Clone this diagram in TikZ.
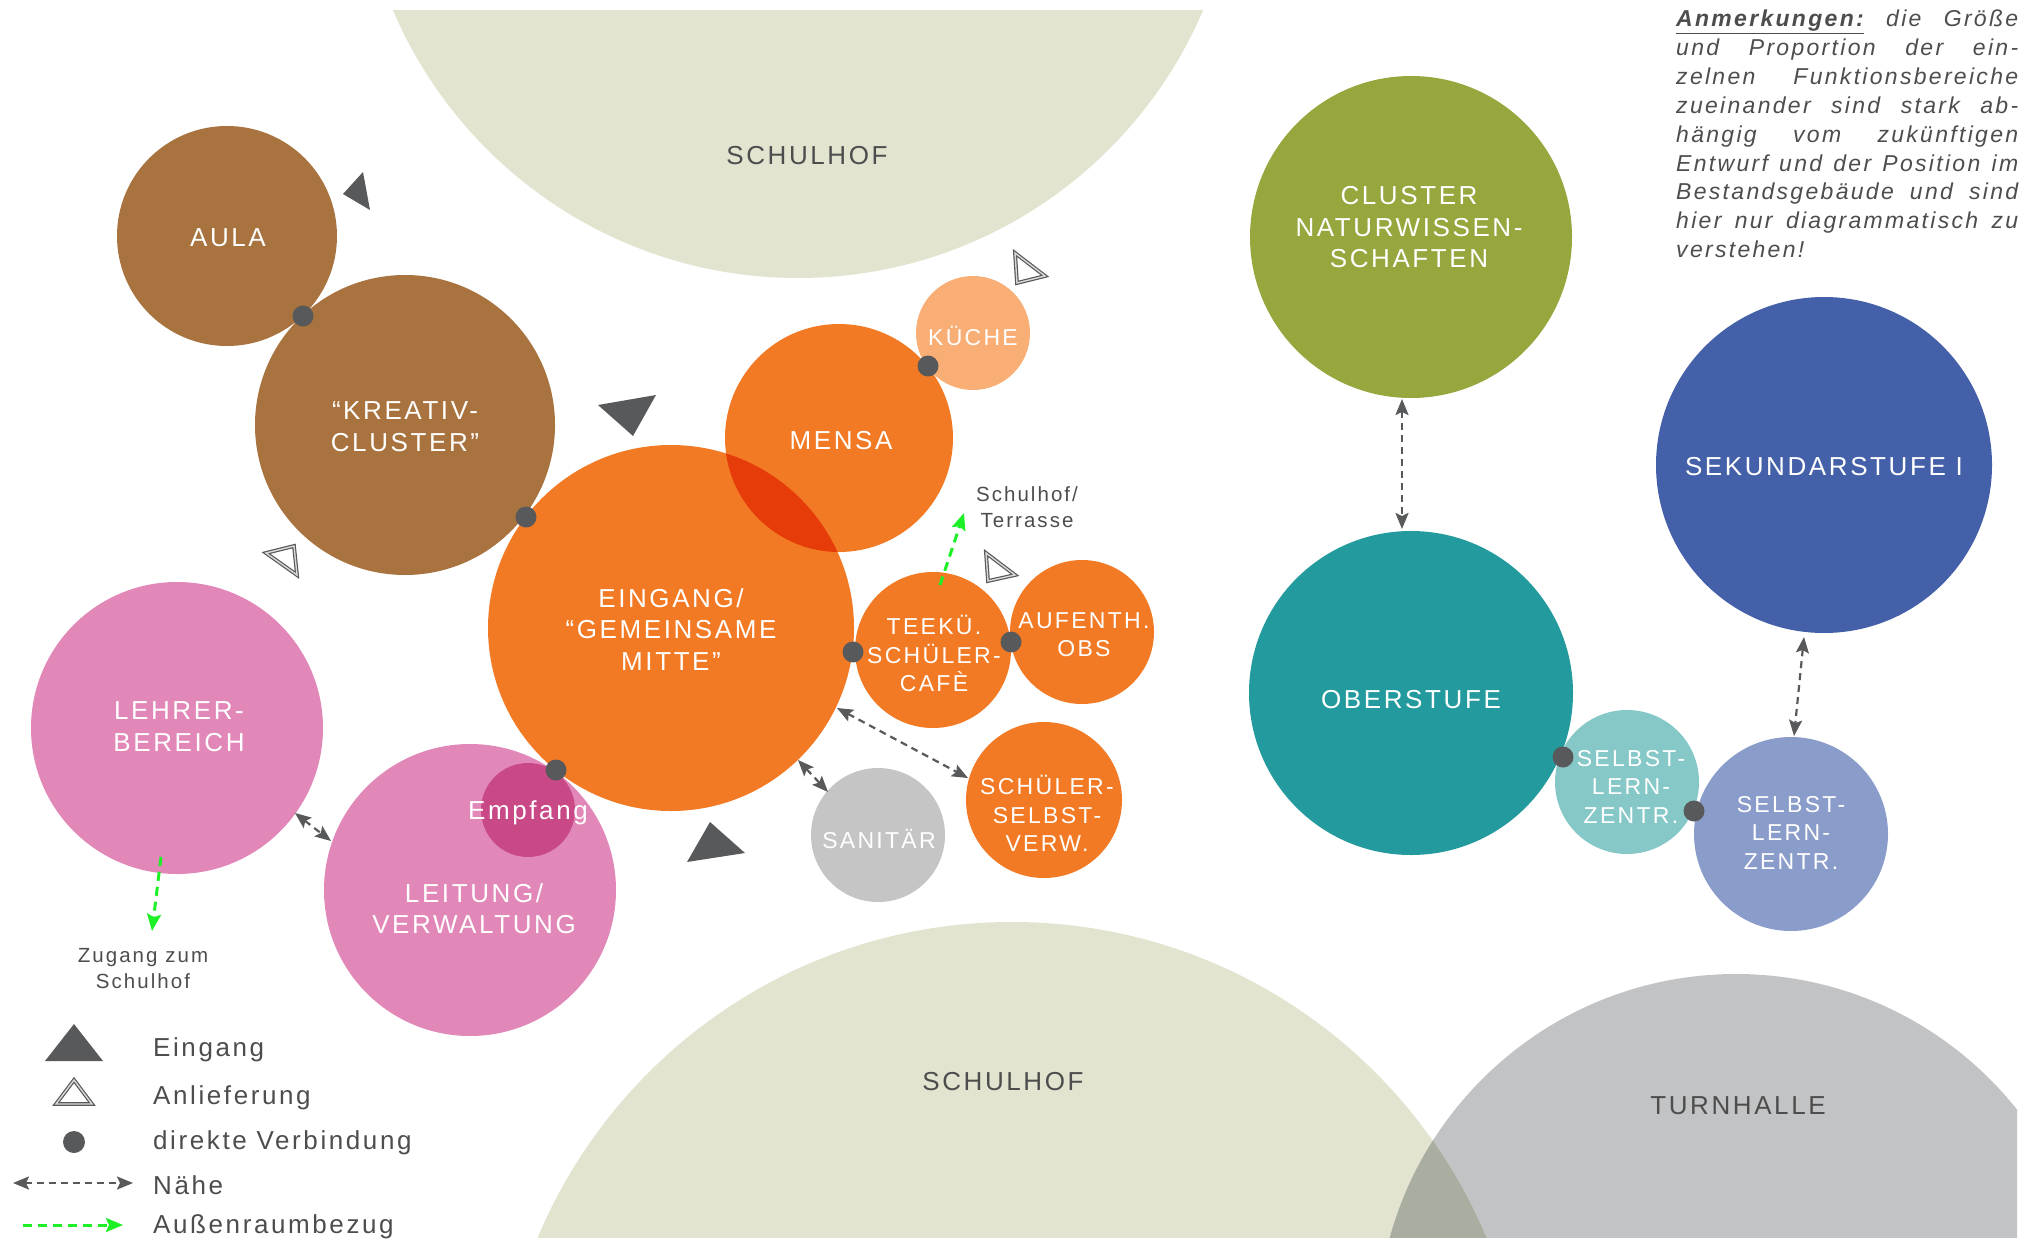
\documentclass[tikz,border=0pt]{standalone}
\usepackage{fontspec}
\setmainfont{Liberation Sans}
\newfontfamily\lblfont{Liberation Sans}[LetterSpace=10]
\usetikzlibrary{arrows.meta}
\definecolor{brownc}{RGB}{168,115,62}
\definecolor{orangec}{RGB}{243,122,36}
\definecolor{redor}{RGB}{230,60,10}
\definecolor{kueche}{RGB}{249,174,118}
\definecolor{sanit}{RGB}{197,197,197}
\definecolor{pinkc}{RGB}{225,136,184}
\definecolor{empf}{RGB}{200,73,134}
\definecolor{olivec}{RGB}{151,167,62}
\definecolor{tealc}{RGB}{35,155,158}
\definecolor{bluec}{RGB}{68,96,168}
\definecolor{lteal}{RGB}{134,200,200}
\definecolor{lav}{RGB}{138,156,201}
\definecolor{hof}{RGB}{226,228,207}
\definecolor{halle}{RGB}{194,195,197}
\definecolor{hofhalle}{RGB}{170,174,160}
\definecolor{dgrey}{RGB}{88,89,91}
\definecolor{txtgrey}{RGB}{77,77,77}
\definecolor{greenc}{RGB}{30,240,40}
\begin{document}
\begin{tikzpicture}[x=1pt,y=-1pt,
  disc/.style={circle,inner sep=0pt,minimum size=#1},
  bigl/.style={text=white,font=\lblfont\fontsize{26}{31.5}\selectfont,align=center,inner sep=0pt},
  smalll/.style={text=white,font=\lblfont\fontsize{23}{28.5}\selectfont,align=center,inner sep=0pt},
  vdot/.style={circle,fill=dgrey,inner sep=0pt,minimum size=21pt},
  near/.style={draw=dgrey,line width=2.2pt,dash pattern=on 7pt off 5pt,{Stealth[length=16pt,width=13pt,inset=3pt]}-{Stealth[length=16pt,width=13pt,inset=3pt]}},
  outside/.style={draw=greenc,line width=3pt,dash pattern=on 9pt off 6pt,-{Stealth[length=17pt,width=14pt,inset=3pt]}},
  entry/.style={fill=dgrey},
  delivery/.style={draw=dgrey,line width=1.2pt,double=gray!30,double distance=1.4pt,line join=miter},
  hoftext/.style={text=txtgrey,font=\lblfont\fontsize{26}{31}\selectfont,inner sep=0pt},
  annot/.style={text=txtgrey,font=\lblfont\fontsize{20.5}{26}\selectfont,align=center,inner sep=0pt},
  legtext/.style={text=txtgrey,font=\lblfont\fontsize{26}{31}\selectfont,inner sep=0pt,anchor=base west},
  notetext/.style={text=txtgrey,font=\lblfont\itshape\fontsize{23}{28.8}\selectfont,inner sep=0pt,anchor=base west}
]
\useasboundingbox (0,0) rectangle (2031,1239);

% outdoor areas and gym
\begin{scope}
  \clip (0,11) rectangle (2017,1237);
  \fill[hof] (798,-162) circle (440pt);
  \fill[hof] (1012,1436) circle (514pt);
  \fill[halle] (1736,1333) circle (359pt);
  \begin{scope}
    \clip (1012,1436) circle (514pt);
    \fill[hofhalle] (1736,1333) circle (359pt);
  \end{scope}
\end{scope}
\node[hoftext] (hof1) at (807,155.5) {SCHULHOF};
\node[hoftext] (hof2) at (1003,1081.5) {SCHULHOF};
\node[hoftext] (halleT) at (1738,1105.5) {TURNHALLE};

% rooms
\node[disc=220pt,fill=brownc] (aula) at (227,236) {};
\node[disc=300pt,fill=brownc] (kreativ) at (405,425) {};
\node[disc=366pt,fill=orangec] (eingang) at (671,628) {};
\node[disc=228pt,fill=orangec] (mensa) at (839,438) {};
\begin{scope}
  \clip (671,628) circle (183pt);
  \fill[redor] (839,438) circle (114pt);
\end{scope}
\node[disc=114pt,fill=kueche] (kueche) at (973,333) {};
\node[disc=156pt,fill=orangec] (teek) at (933,650) {};
\node[disc=144pt,fill=orangec] (aufenth) at (1082,632) {};
\node[disc=156pt,fill=orangec] (ssv) at (1044,800) {};
\node[disc=134pt,fill=sanit] (sanitaer) at (878,835) {};
\node[disc=292pt,fill=pinkc] (lehrer) at (177,728) {};
\node[disc=292pt,fill=pinkc] (leitung) at (470,890) {};
\node[disc=94pt,fill=empf] (empfang) at (528,810) {};
\node[disc=322pt,fill=olivec] (natur) at (1411,237) {};
\node[disc=324pt,fill=tealc] (ober) at (1411,693) {};
\node[disc=336pt,fill=bluec] (sek) at (1824,465) {};
\node[disc=144pt,fill=lteal] (slz1) at (1627,782) {};
\node[disc=194pt,fill=lav] (slz2) at (1791,834) {};

% labels
\node[bigl] (aulaT) at (228,237.5) {AULA};
\node[bigl] (kreativT) at (405,426.5) {“KREATIV-\\CLUSTER”};
\node[bigl] (eingangT) at (671,629.5) {EINGANG/\\“GEMEINSAME\\MITTE”};
\node[bigl] (mensaT) at (841,440.5) {MENSA};
\node[smalll] (kuecheT) at (973,335.5) {KÜCHE};
\node[smalll] (teekT) at (934,653.5) {TEEKÜ.\\SCHÜLER-\\CAFÈ};
\node[smalll] (aufenthT) at (1084,634.5) {AUFENTH.\\OBS};
\node[smalll] (ssvT) at (1047,813.5) {SCHÜLER-\\SELBST-\\VERW.};
\node[smalll] (sanitaerT) at (879,838.5) {SANITÄR};
\node[bigl] (lehrerT) at (179,726.5) {LEHRER-\\BEREICH};
\node[bigl] (leitungT) at (474,908.5) {LEITUNG/\\VERWALTUNG};
\node[bigl] (empfangT) at (528,812.5) {Empfang};
\node[bigl] (naturT) at (1409,227.5) {CLUSTER\\NATURWISSEN-\\SCHAFTEN};
\node[bigl] (oberT) at (1411,699.5) {OBERSTUFE};
\node[bigl] (sekT) at (1824,466.5) {SEKUNDARSTUFE I};
\node[smalll] (slz1T) at (1631,786.5) {SELBST-\\LERN-\\ZENTR.};
\node[smalll] (slz2T) at (1791,832.5) {SELBST-\\LERN-\\ZENTR.};

% direct connections
\node[vdot] (d1) at (303,316) {};
\node[vdot] (d2) at (526,517) {};
\node[vdot] (d3) at (928,366) {};
\node[vdot] (d4) at (853,652) {};
\node[vdot] (d5) at (1011,642) {};
\node[vdot] (d6) at (556,770) {};
\node[vdot] (d7) at (1563,757) {};
\node[vdot] (d8) at (1694,811) {};

% entrances
\fill[entry] (363,172) -- (343,194) -- (370,210) -- cycle;
\fill[entry] (598,405) -- (656,395) -- (633,436) -- cycle;
\fill[entry] (710,822) -- (745,853) -- (687,862) -- cycle;
% deliveries
\draw[delivery] (266,553) -- (294,546) -- (297,575) -- cycle;
\draw[delivery] (1015,253) -- (1045,276) -- (1017,283) -- cycle;
\draw[delivery] (986,553) -- (1015,575) -- (988,581) -- cycle;

% proximity connectors
\coordinate (n1a) at (1402,399); \coordinate (n1b) at (1402,529);
\coordinate (n2a) at (1804,637); \coordinate (n2b) at (1794,736);
\coordinate (n3a) at (295,813);  \coordinate (n3b) at (331,841);
\coordinate (n4a) at (798,760);  \coordinate (n4b) at (828,792);
\coordinate (n5a) at (837,708);  \coordinate (n5b) at (968,778);
\draw[near] (n1a) -- (n1b);
\draw[near] (n2a) -- (n2b);
\draw[near] (n3a) -- (n3b);
\draw[near] (n4a) -- (n4b);
\draw[near] (n5a) -- (n5b);

% outdoor connectors
\coordinate (g1a) at (940,585); \coordinate (g1b) at (964,513);
\coordinate (g2a) at (161,857); \coordinate (g2b) at (152,931);
\draw[outside] (g1a) -- (g1b);
\draw[outside] (g2a) -- (g2b);
\node[annot] (terrasse) at (1027,507.5) {Schulhof/\\Terrasse};
\node[annot] (zugang) at (143,968.5) {Zugang zum\\Schulhof};

% legend
\fill[entry] (74,1024) -- (45,1061) -- (103,1061) -- cycle;
\draw[delivery] (74,1080) -- (56,1104) -- (92,1104) -- cycle;
\node[vdot,minimum size=22pt] (ldot) at (74,1142) {};
\coordinate (l1a) at (13,1183); \coordinate (l1b) at (133,1183);
\draw[near] (l1a) -- (l1b);
\coordinate (l2a) at (23,1225); \coordinate (l2b) at (123,1225);
\draw[outside] (l2a) -- (l2b);
\node[legtext] (leg1) at (153,1056.5) {Eingang};
\node[legtext] (leg2) at (153,1104.5) {Anlieferung};
\node[legtext] (leg3) at (153,1149.5) {direkte Verbindung};
\node[legtext] (leg4) at (153,1194.5) {Nähe};
\node[legtext] (leg5) at (153,1233.5) {Außenraumbezug};

% note
\node[notetext] (note1) at (1676,27) {\makebox[342pt][s]{\underline{\textbf{Anmerkungen:}} die Größe}};
\node[notetext] (note2) at (1676,55.8) {\makebox[342pt][s]{und Proportion der ein-}};
\node[notetext] (note3) at (1676,84.6) {\makebox[342pt][s]{zelnen Funktionsbereiche}};
\node[notetext] (note4) at (1676,113.4) {\makebox[342pt][s]{zueinander sind stark ab-}};
\node[notetext] (note5) at (1676,142.2) {\makebox[342pt][s]{hängig vom zukünftigen}};
\node[notetext] (note6) at (1676,171) {\makebox[342pt][s]{Entwurf und der Position im}};
\node[notetext] (note7) at (1676,199.8) {\makebox[342pt][s]{Bestandsgebäude und sind}};
\node[notetext] (note8) at (1676,228.6) {\makebox[342pt][s]{hier nur diagrammatisch zu}};
\node[notetext] (note9) at (1676,257.4) {verstehen!};
\end{tikzpicture}
\end{document}
